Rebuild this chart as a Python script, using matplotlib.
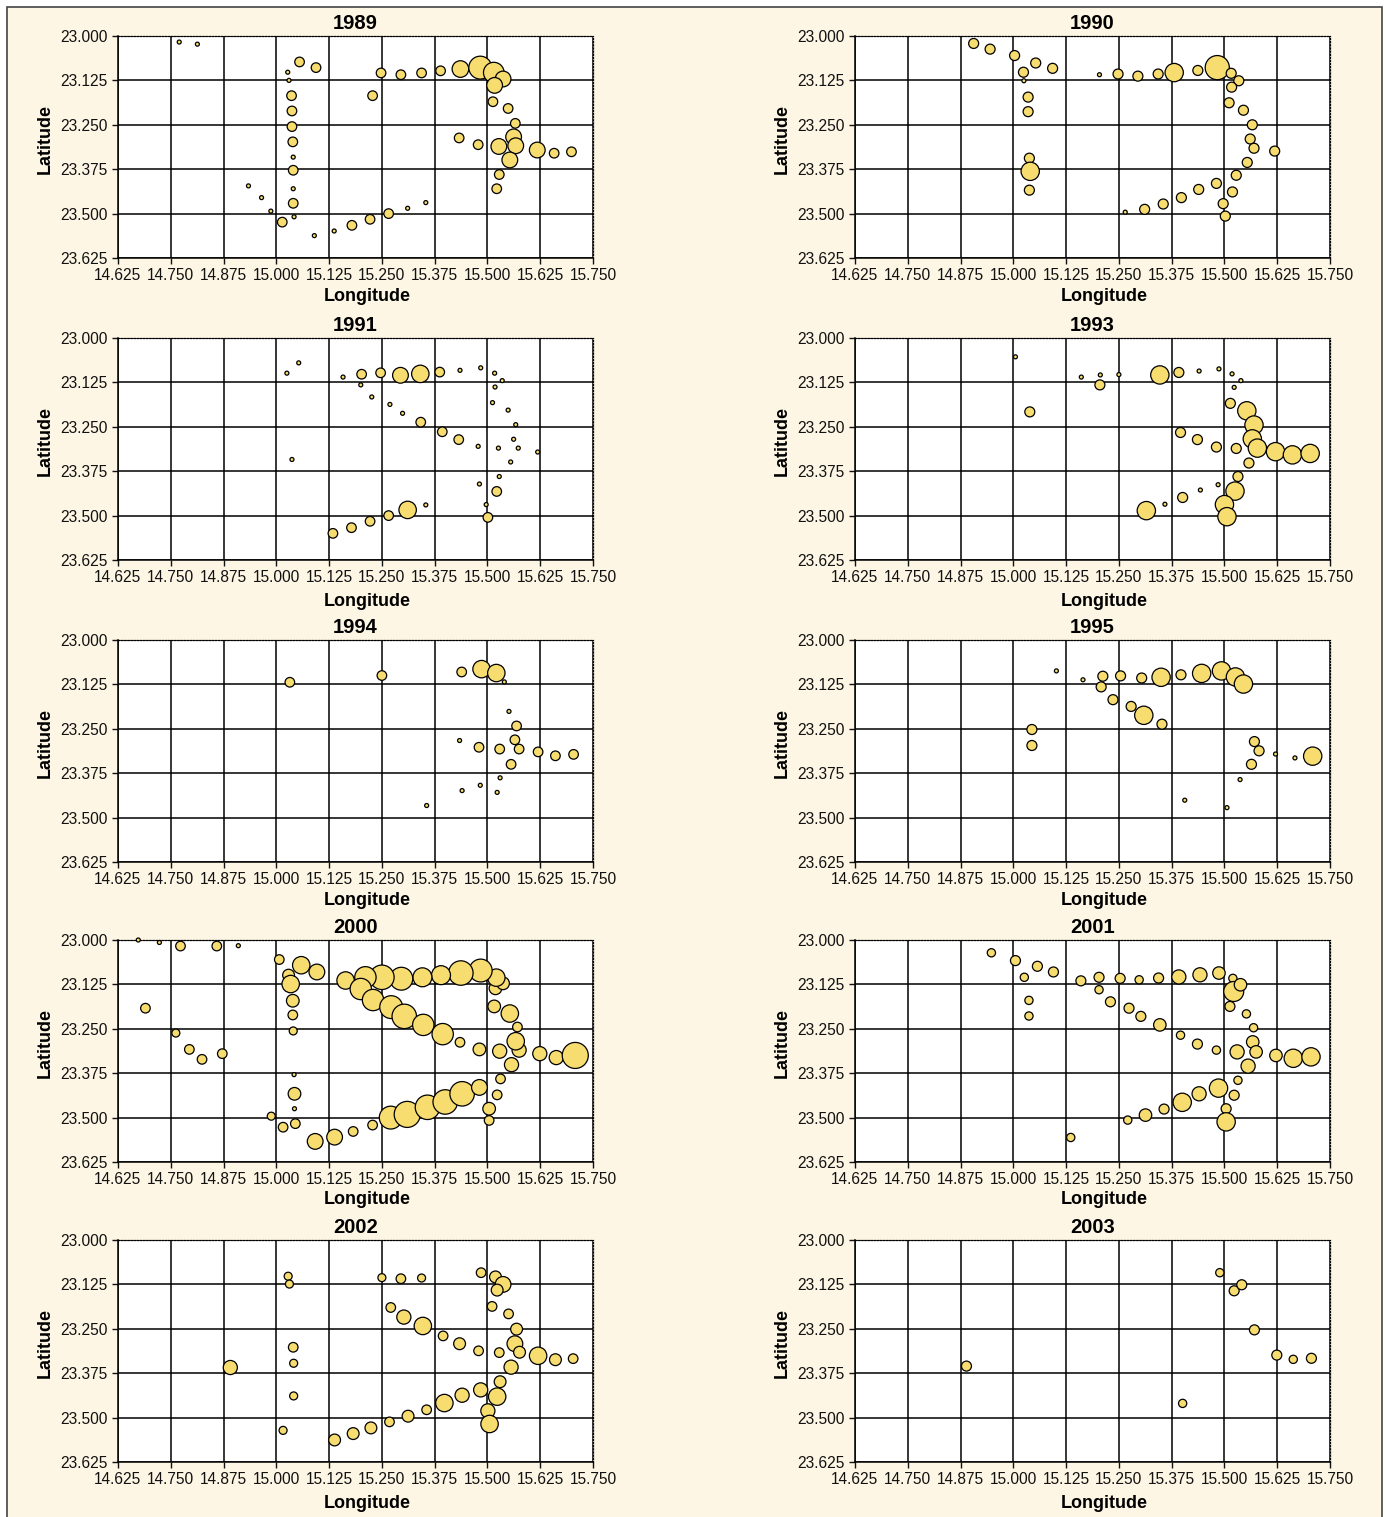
import numpy as np
import matplotlib
matplotlib.use("Agg")
import matplotlib.pyplot as plt
from matplotlib.patches import Rectangle

plt.rcParams['font.family'] = ['Liberation Sans', 'DejaVu Sans']

# IMAGE SIZE (pixels)
W = 1388
H = 1517
DPI = 100

BG = '#fdf6e4'
FILL = '#f7dc70'

years = ['1989', '1990', '1991', '1993', '1994', '1995', '2000', '2001', '2002', '2003']

x_ticks = [14.625, 14.750, 14.875, 15.000, 15.125, 15.250, 15.375, 15.500, 15.625, 15.750]
y_ticks = [23.000, 23.125, 23.250, 23.375, 23.500, 23.625]

# data: longitude, latitude, bubble value
lon_1989 = [14.770, 14.813, 15.055, 15.094, 15.027, 15.030, 15.036, 15.037, 15.037, 15.039,
            15.040, 15.040, 15.040, 15.040, 15.042, 14.934, 14.965, 14.987, 15.014, 15.090,
            15.137, 15.179, 15.222, 15.266, 15.311, 15.354, 15.228, 15.248, 15.295, 15.344,
            15.389, 15.436, 15.483, 15.515, 15.537, 15.517, 15.513, 15.549, 15.566, 15.562,
            15.433, 15.478, 15.527, 15.567, 15.618, 15.553, 15.658, 15.699, 15.528, 15.522]
lat_1989 = [23.017, 23.023, 23.073, 23.089, 23.102, 23.125, 23.168, 23.211, 23.255, 23.298,
            23.341, 23.378, 23.430, 23.471, 23.509, 23.422, 23.455, 23.493, 23.524, 23.562,
            23.549, 23.533, 23.516, 23.500, 23.485, 23.469, 23.168, 23.104, 23.109, 23.104,
            23.098, 23.093, 23.089, 23.103, 23.121, 23.139, 23.185, 23.204, 23.246, 23.284,
            23.287, 23.306, 23.311, 23.309, 23.321, 23.349, 23.330, 23.326, 23.390, 23.430]
val_1989 = [4, 4, 23, 23, 4, 4, 23, 23, 23, 23,
            4, 23, 4, 23, 4, 4, 4, 4, 23, 4,
            4, 23, 23, 23, 4, 4, 23, 23, 23, 23,
            23, 69, 131, 106, 62, 62, 23, 23, 23, 62,
            23, 23, 62, 62, 62, 62, 23, 23, 23, 23]

lon_1990 = [14.906, 14.945, 15.003, 15.053, 15.093, 15.024, 15.025, 15.035, 15.035, 15.038,
            15.040, 15.038, 15.204, 15.248, 15.295, 15.343, 15.381, 15.437, 15.483, 15.516,
            15.534, 15.517, 15.511, 15.545, 15.566, 15.561, 15.570, 15.619, 15.554, 15.528,
            15.481, 15.439, 15.398, 15.355, 15.311, 15.265, 15.519, 15.497, 15.502]
lat_1990 = [23.021, 23.037, 23.055, 23.076, 23.091, 23.102, 23.126, 23.172, 23.213, 23.344,
            23.381, 23.434, 23.109, 23.107, 23.113, 23.107, 23.103, 23.097, 23.089, 23.105,
            23.126, 23.144, 23.188, 23.209, 23.250, 23.290, 23.316, 23.324, 23.356, 23.392,
            23.415, 23.432, 23.455, 23.473, 23.488, 23.496, 23.439, 23.472, 23.507]
val_1990 = [25, 25, 25, 25, 25, 25, 4, 25, 25, 25,
            84, 25, 4, 25, 25, 25, 84, 25, 146, 25,
            25, 25, 25, 25, 25, 25, 25, 25, 25, 25,
            25, 25, 25, 25, 25, 4, 25, 25, 25]

lon_1991 = [15.025, 15.053, 15.037, 15.158, 15.202, 15.200, 15.226, 15.247, 15.294, 15.341,
            15.387, 15.435, 15.484, 15.517, 15.535, 15.518, 15.512, 15.549, 15.567, 15.562,
            15.573, 15.526, 15.619, 15.555, 15.528, 15.481, 15.522, 15.497, 15.501, 15.269,
            15.299, 15.342, 15.393, 15.432, 15.478, 15.354, 15.311, 15.266, 15.222, 15.178,
            15.134]
lat_1991 = [23.099, 23.070, 23.342, 23.110, 23.102, 23.132, 23.166, 23.098, 23.105, 23.101,
            23.096, 23.091, 23.084, 23.099, 23.120, 23.138, 23.182, 23.203, 23.244, 23.285,
            23.310, 23.310, 23.321, 23.349, 23.390, 23.411, 23.432, 23.469, 23.505, 23.187,
            23.212, 23.237, 23.264, 23.286, 23.305, 23.470, 23.484, 23.500, 23.516, 23.534,
            23.550]
val_1991 = [4, 4, 4, 4, 23, 4, 4, 23, 62, 76,
            23, 4, 4, 4, 4, 4, 4, 4, 4, 4,
            4, 4, 4, 4, 4, 4, 23, 4, 23, 4,
            4, 23, 23, 23, 4, 4, 76, 23, 23, 23,
            23]

lon_1993 = [15.005, 15.039, 15.161, 15.206, 15.250, 15.205, 15.347, 15.392, 15.440, 15.487,
            15.518, 15.539, 15.523, 15.514, 15.553, 15.570, 15.566, 15.578, 15.621, 15.661,
            15.703, 15.396, 15.436, 15.481, 15.528, 15.558, 15.532, 15.485, 15.443, 15.401,
            15.359, 15.315, 15.525, 15.500, 15.506]
lat_1993 = [23.053, 23.208, 23.110, 23.104, 23.103, 23.132, 23.104, 23.097, 23.093, 23.087,
            23.101, 23.120, 23.139, 23.184, 23.205, 23.245, 23.284, 23.310, 23.320, 23.329,
            23.325, 23.266, 23.286, 23.307, 23.311, 23.352, 23.390, 23.413, 23.428, 23.449,
            23.468, 23.486, 23.431, 23.469, 23.503]
val_1993 = [4, 25, 4, 4, 4, 25, 84, 25, 4, 4,
            4, 4, 4, 25, 84, 84, 84, 84, 84, 84,
            84, 25, 25, 25, 25, 25, 25, 4, 4, 25,
            4, 84, 84, 84, 84]

lon_1994 = [15.032, 15.250, 15.439, 15.486, 15.521, 15.540, 15.551, 15.569, 15.565, 15.434,
            15.480, 15.529, 15.575, 15.620, 15.661, 15.704, 15.556, 15.530, 15.483, 15.440,
            15.523, 15.356]
lat_1994 = [23.119, 23.100, 23.090, 23.082, 23.093, 23.118, 23.201, 23.242, 23.281, 23.283,
            23.302, 23.307, 23.307, 23.315, 23.326, 23.322, 23.350, 23.388, 23.409, 23.424,
            23.429, 23.466]
val_1994 = [23, 23, 23, 76, 76, 4, 4, 23, 23, 4,
            23, 23, 23, 23, 23, 23, 23, 4, 4, 4,
            4, 4]

lon_1995 = [15.102, 15.165, 15.212, 15.254, 15.304, 15.350, 15.397, 15.446, 15.493, 15.526,
            15.545, 15.208, 15.236, 15.279, 15.309, 15.352, 15.044, 15.044, 15.571, 15.582,
            15.621, 15.667, 15.709, 15.564, 15.537, 15.406, 15.506]
lat_1995 = [23.087, 23.112, 23.102, 23.101, 23.107, 23.105, 23.098, 23.094, 23.087, 23.104,
            23.124, 23.132, 23.168, 23.187, 23.212, 23.237, 23.252, 23.297, 23.286, 23.312,
            23.321, 23.332, 23.327, 23.350, 23.393, 23.451, 23.472]
val_1995 = [4, 4, 25, 25, 25, 84, 25, 84, 84, 84,
            84, 25, 25, 25, 84, 25, 25, 25, 25, 25,
            4, 4, 84, 25, 4, 4, 4]

lon_2000 = [14.673, 14.723, 14.773, 14.859, 14.910, 14.690, 14.762, 14.794, 14.824, 14.872,
            15.007, 15.059, 15.096, 15.029, 15.034, 15.039, 15.039, 15.040, 15.042, 15.043,
            15.043, 15.045, 14.988, 15.016, 15.092, 15.138, 15.182, 15.228, 15.271, 15.310,
            15.358, 15.400, 15.440, 15.481, 15.523, 15.504, 15.504, 15.531, 15.557, 15.575,
            15.567, 15.529, 15.481, 15.435, 15.624, 15.663, 15.708, 15.571, 15.553, 15.516,
            15.519, 15.537, 15.521, 15.484, 15.437, 15.390, 15.346, 15.296, 15.250, 15.211,
            15.164, 15.200, 15.229, 15.272, 15.303, 15.348, 15.394]
lat_2000 = [23.000, 23.007, 23.017, 23.017, 23.016, 23.192, 23.262, 23.308, 23.336, 23.320,
            23.055, 23.071, 23.090, 23.099, 23.124, 23.171, 23.211, 23.256, 23.379, 23.433,
            23.475, 23.517, 23.496, 23.527, 23.567, 23.555, 23.539, 23.521, 23.500, 23.491,
            23.471, 23.456, 23.433, 23.415, 23.436, 23.475, 23.508, 23.391, 23.351, 23.310,
            23.285, 23.313, 23.308, 23.288, 23.320, 23.331, 23.325, 23.245, 23.207, 23.187,
            23.136, 23.122, 23.106, 23.086, 23.093, 23.099, 23.105, 23.109, 23.105, 23.105,
            23.114, 23.138, 23.169, 23.189, 23.215, 23.239, 23.265]
val_2000 = [4, 4, 23, 23, 4, 23, 16, 23, 23, 23,
            23, 76, 62, 35, 76, 40, 23, 16, 4, 40,
            4, 23, 16, 23, 62, 62, 23, 23, 131, 170,
            150, 150, 150, 62, 23, 40, 23, 23, 50, 50,
            76, 50, 40, 23, 50, 50, 170, 23, 76, 40,
            40, 40, 76, 131, 150, 90, 90, 131, 150, 114,
            76, 114, 114, 131, 150, 114, 114]

lon_2001 = [14.948, 15.005, 15.057, 15.095, 15.026, 15.037, 15.037, 15.160, 15.203, 15.253,
            15.298, 15.344, 15.392, 15.442, 15.487, 15.520, 15.522, 15.538, 15.513, 15.552,
            15.569, 15.567, 15.575, 15.530, 15.622, 15.663, 15.705, 15.556, 15.532, 15.486,
            15.440, 15.400, 15.357, 15.313, 15.271, 15.523, 15.504, 15.504, 15.136, 15.203,
            15.230, 15.274, 15.302, 15.347, 15.396, 15.436, 15.481]
lat_2001 = [23.036, 23.058, 23.074, 23.090, 23.105, 23.170, 23.214, 23.115, 23.105, 23.108,
            23.112, 23.107, 23.104, 23.098, 23.093, 23.108, 23.145, 23.126, 23.187, 23.208,
            23.247, 23.287, 23.315, 23.315, 23.325, 23.333, 23.329, 23.355, 23.395, 23.417,
            23.433, 23.457, 23.476, 23.493, 23.507, 23.437, 23.475, 23.512, 23.556, 23.140,
            23.174, 23.192, 23.215, 23.239, 23.268, 23.293, 23.310]
val_2001 = [17, 25, 25, 25, 17, 17, 17, 25, 25, 25,
            17, 25, 50, 50, 39, 17, 100, 39, 25, 17,
            17, 39, 39, 50, 39, 84, 84, 50, 17, 84,
            50, 84, 25, 39, 17, 25, 25, 84, 17, 17,
            25, 25, 25, 39, 17, 25, 17]

lon_2002 = [15.028, 15.031, 15.040, 15.041, 15.041, 15.016, 14.891, 15.250, 15.295, 15.344,
            15.485, 15.519, 15.537, 15.523, 15.511, 15.550, 15.569, 15.565, 15.576, 15.528,
            15.479, 15.434, 15.395, 15.347, 15.302, 15.271, 15.620, 15.661, 15.703, 15.556,
            15.530, 15.484, 15.523, 15.440, 15.398, 15.356, 15.312, 15.268, 15.224, 15.182,
            15.138, 15.501, 15.505]
lat_2002 = [23.102, 23.124, 23.302, 23.347, 23.439, 23.536, 23.359, 23.106, 23.109, 23.107,
            23.092, 23.104, 23.125, 23.141, 23.187, 23.208, 23.251, 23.292, 23.316, 23.317,
            23.312, 23.292, 23.270, 23.242, 23.217, 23.190, 23.326, 23.337, 23.334, 23.358,
            23.399, 23.422, 23.441, 23.437, 23.459, 23.478, 23.496, 23.512, 23.529, 23.545,
            23.563, 23.481, 23.518]
val_2002 = [16, 16, 23, 16, 16, 16, 50, 16, 23, 16,
            23, 35, 62, 35, 23, 23, 35, 62, 35, 23,
            23, 35, 23, 76, 50, 23, 76, 35, 23, 50,
            35, 50, 76, 50, 76, 23, 35, 23, 35, 35,
            35, 50, 76]

lon_2003 = [14.889, 15.401, 15.489, 15.523, 15.541, 15.571, 15.624, 15.663, 15.706]
lat_2003 = [23.355, 23.460, 23.092, 23.143, 23.126, 23.253, 23.324, 23.336, 23.333]
val_2003 = [25, 17, 17, 25, 25, 25, 25, 17, 25]

data = {
    '1989': (lon_1989, lat_1989, val_1989),
    '1990': (lon_1990, lat_1990, val_1990),
    '1991': (lon_1991, lat_1991, val_1991),
    '1993': (lon_1993, lat_1993, val_1993),
    '1994': (lon_1994, lat_1994, val_1994),
    '1995': (lon_1995, lat_1995, val_1995),
    '2000': (lon_2000, lat_2000, val_2000),
    '2001': (lon_2001, lat_2001, val_2001),
    '2002': (lon_2002, lat_2002, val_2002),
    '2003': (lon_2003, lat_2003, val_2003),
}

# panel layout in pixels
col_x = [118, 855]
row_top = [36, 338, 640, 940, 1240]
AX_W = 475
AX_H = 222
xlab_off = [30, 33, 30, 29, 33]


def bubble_panel(ax, year, row):
    lon, lat, val = data[year]
    ax.set_facecolor('white')
    ax.set_xlim(x_ticks[0], x_ticks[-1])
    ax.set_ylim(y_ticks[-1], y_ticks[0])
    ax.set_xticks(x_ticks)
    ax.set_yticks(y_ticks)
    ax.set_xticklabels(['%.3f' % v for v in x_ticks])
    ax.set_yticklabels(['%.3f' % v for v in y_ticks])
    ax.tick_params(direction='out', length=4.5, width=1, labelsize=11.2, colors='#111111')
    ax.tick_params(axis='x', pad=2.5)
    ax.tick_params(axis='y', pad=3)
    ax.grid(True, color='black', linewidth=1.1)
    ax.set_axisbelow(True)
    for s in ['left', 'bottom']:
        ax.spines[s].set_linewidth(1.1)
    for s in ['top', 'right']:
        ax.spines[s].set_linestyle((0, (1, 1.5)))
        ax.spines[s].set_linewidth(0.9)
    ax.scatter(lon, lat, s=np.array(val) * 2.07, color=FILL, edgecolors='black',
               linewidths=0.9, zorder=3, clip_on=False)
    ax.set_title(year, fontsize=14.5, fontweight='bold', pad=5)
    ax.set_xlabel('Longitude', fontsize=13, fontweight='bold')
    ax.set_ylabel('Latitude', fontsize=13, fontweight='bold')
    ax.xaxis.set_label_coords(0.525, -xlab_off[row] / AX_H)
    ax.yaxis.set_label_coords(-64 / AX_W, 0.535)


fig = plt.figure(figsize=(W / DPI, H / DPI), dpi=DPI)
fig.patch.set_facecolor('white')
fig.patches.append(Rectangle((7 / W, -0.01), (1382 - 7) / W, 1 - 7 / H + 0.01,
                             transform=fig.transFigure, facecolor=BG,
                             edgecolor='#444444', linewidth=1.2, zorder=-1))

for i, year in enumerate(years):
    row = i // 2
    col = i % 2
    left = col_x[col] / W
    bottom = 1 - (row_top[row] + AX_H) / H
    ax = fig.add_axes([left, bottom, AX_W / W, AX_H / H])
    bubble_panel(ax, year, row)

fig.savefig('out.png', dpi=DPI, facecolor=fig.get_facecolor())
